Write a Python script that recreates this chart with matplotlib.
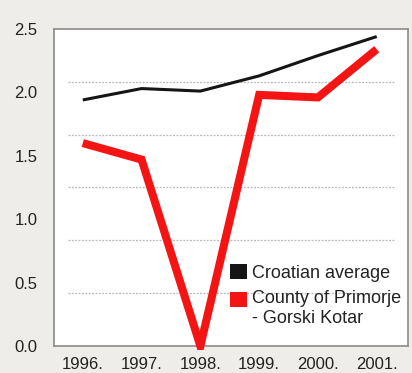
import matplotlib
matplotlib.use("Agg")
import matplotlib.pyplot as plt
from matplotlib.patches import Patch, Rectangle

years = ["1996.", "1997.", "1998.", "1999.", "2000.", "2001."]
croatian_average = [1.94, 2.03, 2.01, 2.13, 2.29, 2.44]
primorje_gorski_kotar = [1.60, 1.47, 0.00, 1.98, 1.96, 2.34]
y_ticks = [0.0, 0.5, 1.0, 1.5, 2.0, 2.5]
series_names = ["Croatian average", "County of Primorje\n- Gorski Kotar"]

plt.rcParams["font.family"] = ["Liberation Sans", "DejaVu Sans"]

bg = "#efede9"
fig = plt.figure(figsize=(4.12, 3.73), dpi=100, facecolor=bg)
ax = fig.add_axes([0.131, 0.0724, 0.859, 0.850])
ax.set_facecolor("white")

x = list(range(len(years)))

# dotted guide lines splitting the panel into six bands
for k in range(1, 6):
    ax.axhline(k * 2.5 / 6, xmin=0.04, xmax=0.96, color="#b8b8b8",
               lw=0.9, ls=(0, (1.5, 1.2)), zorder=1)

ax.plot(x, croatian_average, color="#151515", lw=2.2, zorder=3,
        solid_joinstyle="round", solid_capstyle="butt")
red_line, = ax.plot(x, primorje_gorski_kotar, color="#f51414", lw=5.8,
                    zorder=4, solid_joinstyle="miter", solid_capstyle="butt")
# let the sharp dip poke just past the bottom frame
clip = Rectangle((0, -0.013), 1, 1.05, transform=ax.transAxes,
                 facecolor="none", edgecolor="none")
red_line.set_clip_path(clip)

ax.set_xlim(-0.49, 5.53)
ax.set_ylim(0, 2.5)
ax.set_xticks(x)
ax.set_xticklabels(years)
ax.set_yticks(y_ticks)
ax.set_yticklabels([f"{v:.1f}" for v in y_ticks])
ax.tick_params(axis="both", length=0, labelsize=12, colors="#222222")
ax.tick_params(axis="y", pad=12)
ax.tick_params(axis="x", pad=8)

for side in ["left", "right", "top", "bottom"]:
    ax.spines[side].set_color("#8a8a8a")
    ax.spines[side].set_linewidth(1.2)

handles = [Patch(facecolor="#151515", edgecolor="none"),
           Patch(facecolor="#f51414", edgecolor="none")]
leg = ax.legend(handles, series_names, loc="upper left",
                bbox_to_anchor=(0.497, 0.258), frameon=False, fontsize=13,
                handlelength=0.95, handleheight=0.85, handletextpad=0.3,
                labelspacing=0.45, borderpad=0, borderaxespad=0)
for t in leg.get_texts():
    t.set_color("#222222")
    t.set_linespacing(1.25)
# the two-line entry keeps its swatch beside the first line
red_swatch = leg.legend_handles[1]
red_swatch.set_y(red_swatch.get_y() + 6.5)

fig.savefig("out.png", dpi=100, facecolor=bg)
